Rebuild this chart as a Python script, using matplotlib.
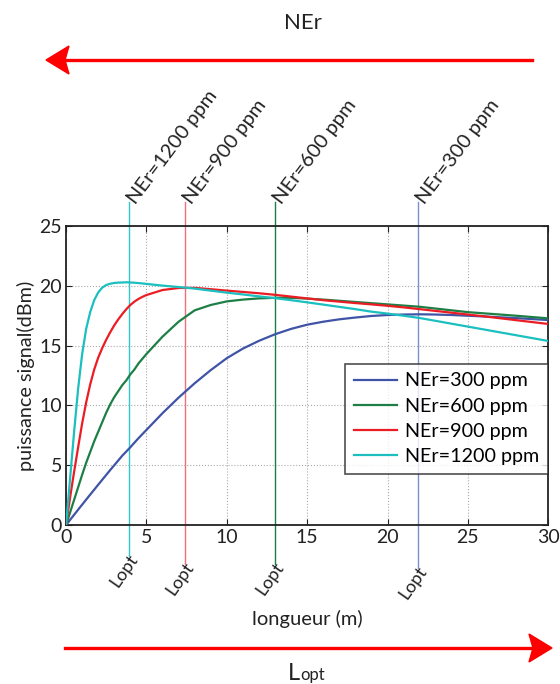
import matplotlib
matplotlib.use("Agg")
import matplotlib.pyplot as plt
from matplotlib.patches import Polygon

plt.rcParams['font.family'] = ['Lato', 'DejaVu Sans']

# longueur (m)
x = [0, 0.25, 0.5, 0.75, 1.0, 1.25, 1.5, 1.75, 2.0, 2.25, 2.5, 2.75, 3.0, 3.25, 3.5,
     3.75, 4.0, 4.25, 4.5, 4.75, 5, 6, 7, 8, 9, 10, 11, 12, 13, 14, 15, 16, 17, 18,
     19, 20, 21, 22, 23, 24, 25, 26, 27, 28, 29, 30]
# puissance signal (dBm) per concentration
p300 = [0, 0.43, 0.85, 1.28, 1.7, 2.12, 2.54, 2.95, 3.37, 3.78, 4.19, 4.6, 5.0, 5.4, 5.8,
        6.15, 6.5, 6.88, 7.25, 7.6, 7.95, 9.35, 10.65, 11.85, 12.95, 13.95, 14.75, 15.4,
        15.95, 16.4, 16.75, 17.0, 17.2, 17.35, 17.48, 17.56, 17.6, 17.62, 17.6, 17.56,
        17.5, 17.44, 17.37, 17.3, 17.22, 17.14]
p600 = [0, 1.05, 2.1, 3.15, 4.2, 5.2, 6.1, 7.0, 7.8, 8.6, 9.4, 10.1, 10.7, 11.2, 11.7,
        12.1, 12.6, 13.0, 13.5, 13.9, 14.3, 15.75, 17.0, 17.95, 18.4, 18.7, 18.85, 18.95,
        19.0, 19.0, 18.93, 18.85, 18.75, 18.65, 18.55, 18.45, 18.35, 18.25, 18.1, 17.95,
        17.8, 17.7, 17.6, 17.5, 17.39, 17.28]
p900 = [0, 2.3, 4.45, 6.5, 8.5, 10.25, 11.75, 13.0, 14.0, 14.8, 15.5, 16.13, 16.7, 17.2,
        17.65, 18.05, 18.4, 18.68, 18.9, 19.08, 19.23, 19.65, 19.82, 19.83, 19.72, 19.6,
        19.49, 19.38, 19.25, 19.1, 18.95, 18.8, 18.68, 18.56, 18.45, 18.33, 18.2, 18.05,
        17.9, 17.75, 17.6, 17.45, 17.29, 17.13, 16.97, 16.81]
p1200 = [0, 3.9, 7.8, 11.4, 14.3, 16.4, 17.8, 18.8, 19.45, 19.85, 20.07, 20.18, 20.24,
         20.27, 20.28, 20.3, 20.28, 20.26, 20.23, 20.2, 20.16, 20.02, 19.9, 19.77, 19.6,
         19.43, 19.28, 19.12, 18.97, 18.8, 18.62, 18.43, 18.24, 18.05, 17.84, 17.68,
         17.5, 17.31, 17.07, 16.83, 16.59, 16.35, 16.11, 15.87, 15.63, 15.39]

labels = ['NEr=300 ppm', 'NEr=600 ppm', 'NEr=900 ppm', 'NEr=1200 ppm']
colors = ['#3f54a6', '#1d7f46', '#ec1c24', '#1cbfbf']
vcolors = ['#7f8fcc', '#1d7f46', '#f0707a', '#33c6c6']
lopt = [21.9, 13.0, 7.4, 3.9]
lopt_bottom = [-3.6, -3.3, -3.3, -2.6]

fig = plt.figure(figsize=(5.6, 6.84), dpi=100)
ax = fig.add_axes([0.118, 0.2325, 0.861, 0.437])

for y, c, lab in zip([p300, p600, p900, p1200], colors, labels):
    ax.plot(x, y, color=c, lw=1.6, label=lab, zorder=3)

# Lopt markers
for xo, yb, c, lab in zip(lopt, lopt_bottom, vcolors, labels):
    ax.plot([xo, xo], [yb, 27.0], color=c, lw=1.0, clip_on=False, zorder=2)
    ax.text(xo + 0.15, 27.0, lab, rotation=53, rotation_mode='anchor', ha='left',
            va='center', fontsize=14.5, color='#222222')
    ax.text(xo + 0.35, yb, 'Lopt', rotation=55, rotation_mode='anchor', ha='right',
            va='center', fontsize=13, color='#222222')

ax.set_xlim(0, 30)
ax.set_ylim(0, 25)
ax.set_xticks(range(0, 31, 5))
ax.set_yticks(range(0, 26, 5))
ax.grid(True, linestyle=':', color='#aaaaaa', lw=0.8)
ax.tick_params(direction='in', top=True, right=True, length=4, labelsize=14,
               colors='#222222', pad=3)
for s in ax.spines.values():
    s.set_linewidth(1.3)
    s.set_color('#222222')
ax.set_xlabel('longueur (m)', fontsize=14.5, color='#222222', labelpad=46)
ax.set_ylabel('puissance signal(dBm)', fontsize=14.3, color='#222222', labelpad=3)

leg = ax.legend(loc='lower right', bbox_to_anchor=(1.0, 0.17), fontsize=14.2,
                frameon=True, fancybox=False, handlelength=2.2, labelspacing=0.42,
                borderpad=0.45, handletextpad=0.4, borderaxespad=0)
leg.get_frame().set_edgecolor('#222222')
leg.get_frame().set_linewidth(1.2)

# big arrows (pixel coordinates on the figure)
H = 684
def arrow(x0, x1, y, direction):
    yy = H - y
    tip = x1
    back = x1 - direction * 23
    notch = x1 - direction * 19
    fig.lines.append(plt.Line2D([x0 / 560, notch / 560], [yy / H, yy / H],
                                color='red', lw=2.4, transform=fig.transFigure))
    head = Polygon([[tip / 560, yy / H], [back / 560, (yy + 14) / H],
                    [notch / 560, yy / H], [back / 560, (yy - 14) / H]],
                   closed=True, color='red', transform=fig.transFigure)
    fig.patches.append(head)

arrow(532, 46, 60, -1)
arrow(65, 552, 648, 1)

fig.text(303 / 560, 1 - 23 / H, 'NEr', ha='center', va='center', fontsize=16,
         color='#222222')
fig.text(300 / 560, 1 - 680 / H, 'L', ha='right', va='baseline', fontsize=17,
         color='#222222')
fig.text(300 / 560, 1 - 680 / H, 'opt', ha='left', va='baseline', fontsize=12,
         color='#222222')

fig.savefig('out.png', dpi=100)
